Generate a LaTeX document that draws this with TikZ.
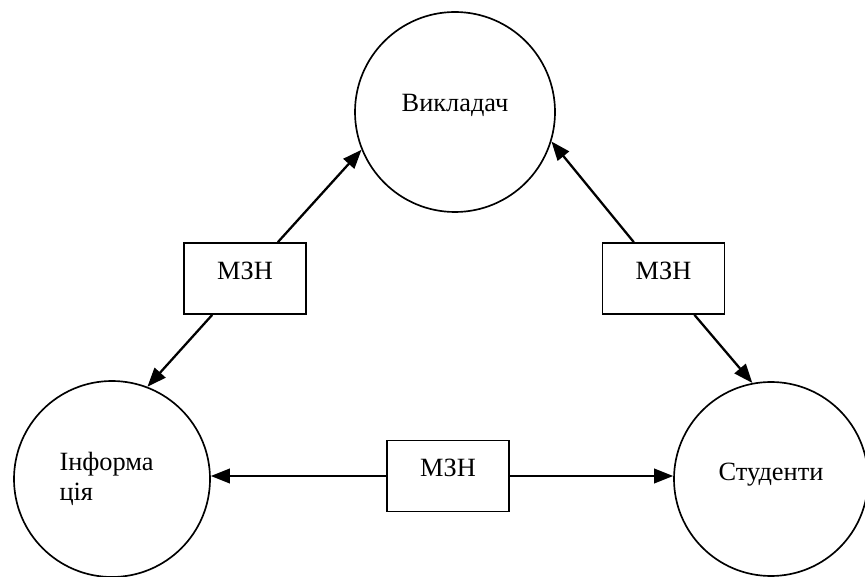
\documentclass[tikz,border=0pt]{standalone}
\usepackage{fontspec}
\setmainfont{Liberation Serif}
\usetikzlibrary{arrows.meta}

\begin{document}
\begin{tikzpicture}[
  party/.style={draw,circle,line width=0.95pt,inner sep=0pt},
  mzn/.style={draw,rectangle,line width=0.95pt,minimum width=2.44cm,minimum height=1.42cm,text height=0.35cm,text depth=0.32cm},
  >={Triangle[length=3.8mm,width=2.9mm]},
  font=\fontsize{15}{17}\selectfont]

\useasboundingbox (0,0) rectangle (17.3,11.52);

% Circles
\node[party,minimum size=4cm,text height=0.35cm,text depth=0.38cm] (teacher) at (9.10,9.28) {Викладач};
\node[party,minimum size=3.92cm,align=left,text width=2.1cm] (info) at (2.24,1.94) {Інформа\\ція};
\node[party,minimum size=3.88cm,text height=0.35cm,text depth=0.30cm] (student) at (15.42,1.94) {Студенти};

% Boxes
\node[mzn] (lbox) at (4.90,5.95) {МЗН};
\node[mzn] (rbox) at (13.27,5.95) {МЗН};
\node[mzn] (mbox) at (8.96,2.00) {МЗН};

% Arrows
\draw[->,line width=1.3pt] (lbox) -- (teacher.202);
\draw[->,line width=1.3pt] (lbox) -- (info.69);
\draw[->,line width=1.3pt] (rbox) -- (teacher.343);
\draw[->,line width=1.3pt] (rbox) -- (student.101);
\draw[->,line width=1.3pt] (mbox.west) -- (info.east |- mbox.west);
\draw[->,line width=1.3pt] (mbox.east) -- (student.west |- mbox.east);

\end{tikzpicture}
\end{document}
